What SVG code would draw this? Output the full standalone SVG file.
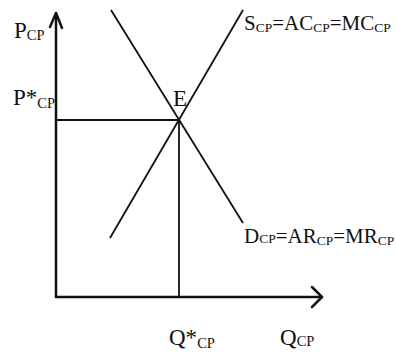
<svg xmlns="http://www.w3.org/2000/svg" width="396" height="356" viewBox="0 0 396 356">
<style>
.t{font-family:"Liberation Serif","Times New Roman",serif;font-size:23px;fill:#111}
.l{font-size:21px}
.s{font-size:14.5px}
.ls{font-size:13.5px}
.ax{stroke:#111;stroke-width:2.5;fill:none;stroke-linecap:round;stroke-linejoin:round}
.ln{stroke:#111;stroke-width:1.8;fill:none}
</style>
<rect width="396" height="356" fill="#fff"/>
<g id="connectors">
<polyline class="ax" points="56,297 56,13"/>
<polyline class="ax" points="50,27 56,13 62,28"/>
<polyline class="ax" points="56,297 322,297"/>
<polyline class="ax" points="312,287 322,297 312,307"/>
<line class="ln" x1="56" y1="120" x2="179" y2="120"/>
<line class="ln" x1="179" y1="120" x2="179" y2="297"/>
<line id="demand" class="ln" x1="111" y1="10" x2="243" y2="223"/>
<line id="supply" class="ln" x1="110" y1="238" x2="243" y2="10"/>
</g>
<g id="label-p"><text class="t" x="14" y="38">P<tspan class="s" dy="2">CP</tspan></text></g>
<g id="label-pstar"><text class="t" x="13" y="105">P*<tspan class="s" dy="3">CP</tspan></text></g>
<g id="label-e"><text class="t" x="173" y="106">E</text></g>
<g id="label-s"><text class="t l" x="244" y="30">S<tspan class="ls" dy="2">CP</tspan><tspan dy="-2">=AC</tspan><tspan class="ls" dy="2">CP</tspan><tspan dy="-2">=MC</tspan><tspan class="ls" dy="2">CP</tspan></text></g>
<g id="label-d"><text class="t l" x="244" y="243">D<tspan class="ls">CP</tspan>=AR<tspan class="ls" dy="2">CP</tspan><tspan dy="-2">=MR</tspan><tspan class="ls" dy="2">CP</tspan></text></g>
<g id="label-qstar"><text class="t" x="169" y="345">Q*<tspan class="s" dy="3">CP</tspan></text></g>
<g id="label-q"><text class="t" x="280" y="345">Q<tspan class="s" dy="1">CP</tspan></text></g>
</svg>
